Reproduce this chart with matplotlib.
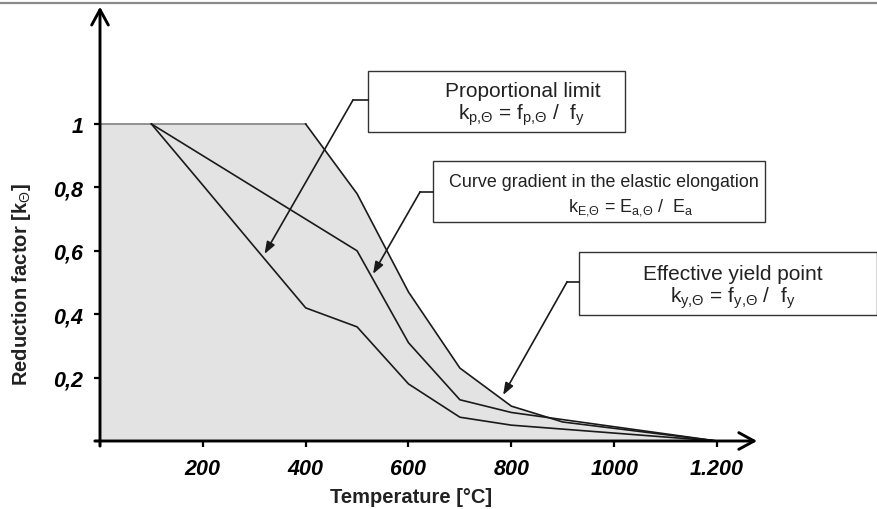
import matplotlib
matplotlib.use("Agg")
import matplotlib.pyplot as plt
from matplotlib.patches import Rectangle
from matplotlib.lines import Line2D

plt.rcParams['font.family'] = ['Liberation Sans', 'DejaVu Sans']
plt.rcParams['mathtext.fontset'] = 'custom'
plt.rcParams['mathtext.rm'] = 'Liberation Sans'
plt.rcParams['mathtext.it'] = 'Liberation Sans'
plt.rcParams['mathtext.bf'] = 'Liberation Sans:bold'
plt.rcParams['mathtext.sf'] = 'Liberation Sans'

# ---- data ----
temps_y = [0, 100, 200, 300, 400, 500, 600, 700, 800, 900, 1000, 1100, 1200]
k_y = [1.0, 1.0, 1.0, 1.0, 1.0, 0.78, 0.47, 0.23, 0.11, 0.06, 0.04, 0.02, 0.0]
temps = [100, 200, 300, 400, 500, 600, 700, 800, 900, 1000, 1100, 1200]
k_E = [1.0, 0.9, 0.8, 0.7, 0.6, 0.31, 0.13, 0.09, 0.0675, 0.045, 0.0225, 0.0]
k_p = [1.0, 0.807, 0.613, 0.42, 0.36, 0.18, 0.075, 0.05, 0.0375, 0.025, 0.0125, 0.0]

x_ticks = [0, 200, 400, 600, 800, 1000, 1200]
x_labels = ["", "200", "400", "600", "800", "1000", "1.200"]
y_ticks = [0, 0.2, 0.4, 0.6, 0.8, 1.0]
y_labels = ["", "0,2", "0,4", "0,6", "0,8", "1"]

W, H = 878, 510
fig = plt.figure(figsize=(W / 100, H / 100), dpi=100)

def fx(px):
    return px / W

def fy(py):
    return 1 - py / H

ax = fig.add_axes([fx(100), fy(442), (717 - 100) / W, (442 - 125) / H])
ax.set_xlim(0, 1200)
ax.set_ylim(0, 1)
for s in ax.spines.values():
    s.set_visible(False)

# fill under yield curve
ax.fill_between(temps_y, k_y, 0, facecolor='#e3e3e3', edgecolor='none', zorder=1)
ax.plot(temps_y[:5], k_y[:5], color='#8a8a8a', lw=1.3, clip_on=False, zorder=2)
ax.plot(temps_y[4:], k_y[4:], color='#1a1a1a', lw=1.2, clip_on=False, zorder=3)
ax.plot(temps, k_E, color='#1a1a1a', lw=1.2, clip_on=False, zorder=3)
ax.plot(temps, k_p, color='#1a1a1a', lw=1.2, clip_on=False, zorder=3)

# axes with arrows
arrow_kw = dict(arrowstyle='->,head_length=0.55,head_width=0.3', lw=2.1, color='black',
                shrinkA=0, shrinkB=0, mutation_scale=20)
ax.annotate('', xy=(1278, 0), xytext=(-10, 0), arrowprops=arrow_kw, annotation_clip=False, zorder=5)
ax.annotate('', xy=(0, 1.37), xytext=(0, -0.016), arrowprops=arrow_kw, annotation_clip=False, zorder=5)

ax.set_xticks(x_ticks)
ax.set_xticklabels(x_labels)
ax.set_yticks(y_ticks)
ax.set_yticklabels(y_labels)
ax.tick_params(direction='out', length=4, width=1.6, color='black', labelsize=15.5, pad=8)
for lab in ax.get_xticklabels() + ax.get_yticklabels():
    lab.set_fontweight('bold')
    lab.set_fontstyle('italic')

fig.text(fx(411), fy(498), "Temperature [°C]", ha='center', va='center',
         fontsize=14.5, fontweight='bold', color='#222222')
fig.text(fx(22), fy(285), r"Reduction factor [k$_\Theta$]", ha='center', va='center',
         rotation=90, fontsize=14.5, fontweight='bold', color='#222222')

# overlay in pixel coordinates for boxes
ov = fig.add_axes([0, 0, 1, 1], zorder=10)
ov.set_xlim(0, W)
ov.set_ylim(H, 0)
ov.axis('off')
ov.patch.set_alpha(0)

# top frame line
ov.add_line(Line2D([0, W], [4, 4], color='#8a8a8a', lw=1.6))

tc = '#222222'
boxes = [
    # (left, top, right, bottom, elbow_y, elbow_x, line1, cx1, base1, line2, cx2, base2, fontsize, tip)
    (368, 72, 625, 133, 101, 353, "Proportional limit", 523, 97,
     r"k$_{p{,}\Theta}$ = f$_{p{,}\Theta}$ /  f$_y$", 522, 120, 15, (320, 0.59)),
    (433, 162, 765, 223, 193, 420, "Curve gradient in the elastic elongation", 604, 187,
     r"k$_{E{,}\Theta}$ = E$_{a{,}\Theta}$ /  E$_a$", 631, 212, 12.9, (531, 0.527)),
    (579, 253, 877, 316, 283, 567, "Effective yield point", 733, 280,
     r"k$_{y{,}\Theta}$ = f$_{y{,}\Theta}$ /  f$_y$", 733, 303, 15, (784, 0.145)),
]
for (l, t, r, b, ey, ex, t1, c1, b1, t2, c2, b2, fs, tip) in boxes:
    ov.add_patch(Rectangle((l, t), r - l, b - t, facecolor='white', edgecolor='#333333', lw=1.0))
    ov.add_line(Line2D([ex, l], [ey, ey], color='#1a1a1a', lw=1.2))
    ov.text(c1, b1, t1, ha='center', va='baseline', fontsize=fs, color=tc)
    ov.text(c2, b2, t2, ha='center', va='baseline', fontsize=fs, color=tc)
    ax.annotate('', xy=tip, xycoords='data', xytext=(ex, ey), textcoords=ov.transData,
                arrowprops=dict(arrowstyle='-|>,head_length=0.6,head_width=0.22', lw=1.2,
                                color='#1a1a1a', shrinkA=0, shrinkB=0, mutation_scale=12),
                annotation_clip=False, zorder=6)

fig.savefig('out.png', dpi=100)
